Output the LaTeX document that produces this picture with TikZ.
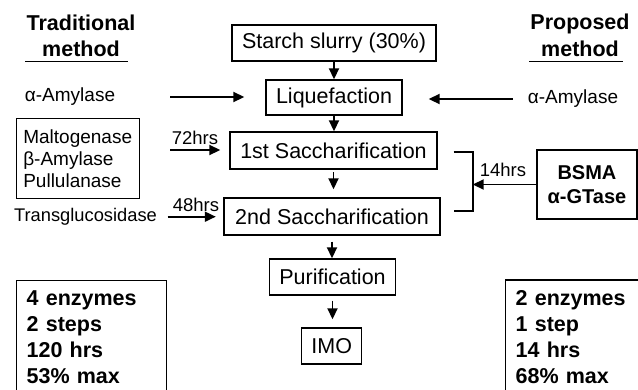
\documentclass[tikz,border=0pt]{standalone}
\usepackage{fontspec}
\setmainfont{Liberation Sans}
\usetikzlibrary{arrows.meta,calc}
\begin{document}
\begin{tikzpicture}[x=1pt,y=-1pt,
  box/.style={draw, line width=1.4pt, inner sep=0pt, font=\fontsize{21.5}{25}\selectfont},
  arr/.style={line width=1.8pt, -{Triangle[length=11pt,width=10pt]}},
  lab/.style={inner sep=0pt, font=\fontsize{19}{22}\selectfont},
  hrs/.style={inner sep=0pt, font=\fontsize{18.5}{22}\selectfont},
  head/.style={inner sep=0pt, align=center, font=\bfseries\fontsize{21.5}{26.6}\selectfont},
  res/.style={draw, line width=1.4pt, anchor=north west, inner xsep=10pt, inner ysep=10pt,
              text width=130pt, align=left, font=\bfseries\fontsize{21.5}{26.1}\selectfont},
]
\useasboundingbox (0,0) rectangle (638,389);
\clip (0,0) rectangle (638,389);

% headings
\node[head] (trad) at (81,36) {Traditional\\method};
\node[head] (prop) at (580,35.5) {Proposed\\method};
\draw[line width=1.3pt] (25,61.7) -- (128,61.7);
\draw[line width=1.3pt] (529,61.7) -- (623,61.7);

% main chain
\node[box, minimum width=204pt, minimum height=36pt] (starch) at (334,43) {Starch slurry (30\%)};
\node[box, minimum width=136pt, minimum height=35pt] (liq) at (334,97.5) {Liquefaction};
\node[box, minimum width=207pt, minimum height=37pt] (s1) at (333.5,150.5) {1st Saccharification};
\node[box, minimum width=216pt, minimum height=37pt] (s2) at (332,216.5) {2nd Saccharification};
\node[box, minimum width=126pt, minimum height=36pt] (pur) at (332.5,277) {Purification};
\node[box, minimum width=60pt, minimum height=36pt] (imo) at (331.7,346) {IMO};

\draw[arr] (starch.south) -- (liq.north);
\draw[arr] (liq.south) -- (liq.south |- s1.north);
\draw[arr, shorten <=2.5pt, shorten >=8pt] (s1.south) -- (s1.south |- s2.north);
\draw[arr, shorten <=6pt] (s2.south) -- (s2.south |- pur.north);
\draw[arr, shorten <=5pt, shorten >=8pt] (pur.south) -- (pur.south |- imo.north);

% traditional side
\node[lab] (aL) at (70,97) {α-Amylase};
\draw[arr, shorten <=55pt, shorten >=21pt] (aL.east) -- (aL.east -| liq.west);

\node[box, align=left, minimum width=123pt, minimum height=80pt,
      font=\fontsize{19}{22}\selectfont] (enz) at (77.7,158.3) {Maltogenase\\β-Amylase\\Pullulanase};
\coordinate (t72) at (170,150);
\draw[arr, shorten >=9pt] (t72) -- (t72 -| s1.west);
\node[hrs, anchor=south] (h72) at (195,145) {72hrs};

\node[hrs, font=\fontsize{18.3}{22}\selectfont] (tg) at (85.5,216.7) {Transglucosidase};
\draw[arr, shorten <=10.5pt, shorten >=7.5pt] (tg.east) -- (tg.east -| s2.west);
\node[hrs, anchor=south] (h48) at (196,212) {48hrs};

\node[res] (resL) at (16,280) {4 enzymes\\2 steps\\120 hrs\\53\% max};

% proposed side
\node[lab] (aR) at (573,99) {α-Amylase};
\draw[arr, shorten <=15pt, shorten >=26pt] (aR.west) -- (aR.west -| liq.east);

\node[box, align=center, minimum width=100pt, minimum height=69pt,
      font=\bfseries\fontsize{20}{23.3}\selectfont] (bsma) at (587,184.5) {BSMA\\α-GTase};

\draw[line width=1.6pt] ($(s1.east)+(16,1.2)$) coordinate (b1) -- ++(19,0) coordinate (b2)
      |- ($(s2.east)+(13,-5.5)$) coordinate (b3);
\draw[arr] (bsma.west) -- (bsma.west -| b2);
\node[hrs, anchor=south] (h14) at (503,177) {14hrs};

\node[res] (resR) at (505,279.3) {2 enzymes\\1 step\\14 hrs\\68\% max};
\end{tikzpicture}
\end{document}
